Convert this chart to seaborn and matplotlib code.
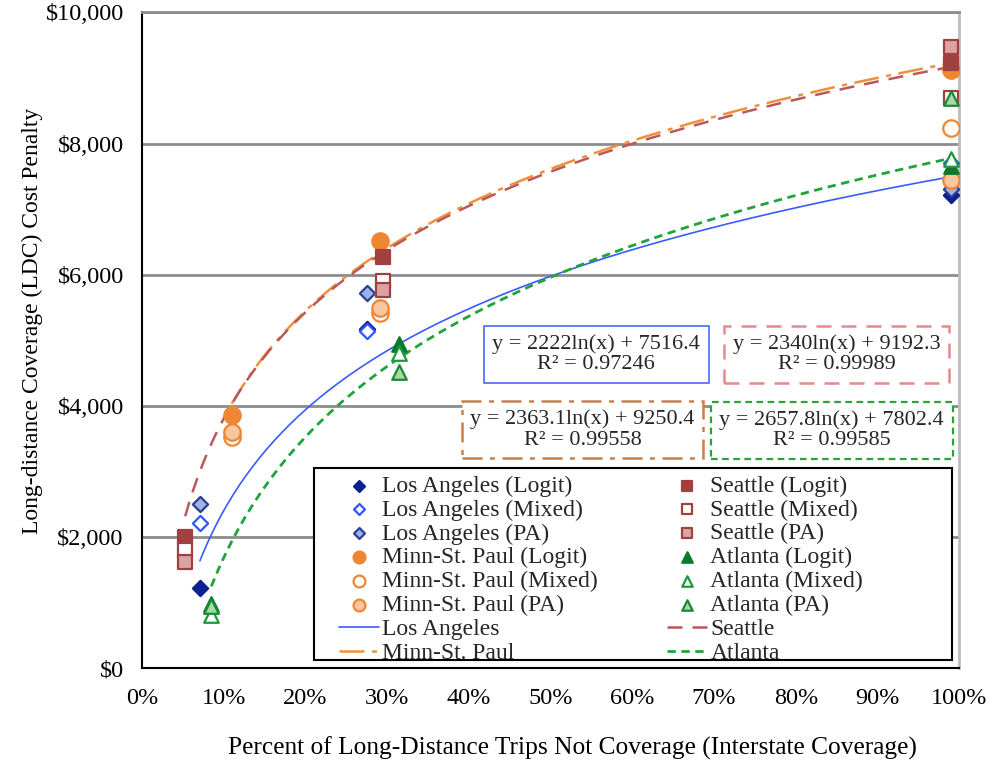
import numpy as np
import pandas as pd
import matplotlib
matplotlib.use("Agg")
import matplotlib.pyplot as plt
import seaborn as sns
from matplotlib.patches import Rectangle
from matplotlib.ticker import PercentFormatter, FuncFormatter

# ---------------------------
# DATA
# ---------------------------
cities = ["Los Angeles", "Minn-St. Paul", "Seattle", "Atlanta"]
models = ["Logit", "Mixed", "PA"]

x_la = [0.071, 0.275, 0.99]
la_logit = [1220, 5180, 7210]
la_mixed = [2210, 5140, 7710]
la_pa = [2500, 5720, 7300]

x_msp = [0.110, 0.291, 0.99]
msp_logit = [3860, 6520, 9120]
msp_mixed = [3520, 5410, 8230]
msp_pa = [3600, 5490, 7440]

x_sea = [0.053, 0.295, 0.99]
sea_logit = [2000, 6270, 9220]
sea_mixed = [1800, 5910, 8700]
sea_pa = [1620, 5760, 9470]

x_atl = [0.085, 0.314, 0.99]
atl_logit = [980, 4950, 7650]
atl_mixed = [810, 4800, 7760]
atl_pa = [950, 4510, 8700]

# log trendline coefficients shown in the chart: y = a*ln(x) + b
fit_a = [2222, 2363.1, 2340, 2657.8]
fit_b = [7516.4, 9250.4, 9192.3, 7802.4]
fit_r2 = ["0.97246", "0.99558", "0.99989", "0.99585"]
fit_text_a = ["2222", "2363.1", "2340", "2657.8"]

sns.set_theme(style="white")
plt.rcParams["font.family"] = ["Liberation Serif", "DejaVu Serif"]

fig, ax = plt.subplots(figsize=(9.92, 7.7), dpi=100)
fig.subplots_adjust(left=0.143, right=0.967, top=0.984, bottom=0.132)

xs = [x_la, x_msp, x_sea, x_atl]
vals = [[la_logit, la_mixed, la_pa], [msp_logit, msp_mixed, msp_pa],
        [sea_logit, sea_mixed, sea_pa], [atl_logit, atl_mixed, atl_pa]]

# marker styles per city: (marker, size, [(face, edge) for logit, mixed, pa])
styles = {
    "Los Angeles": ("D", 60, [("#0b2191", "#0b2191"), ("white", "#2f55ff"), ("#9fb3e0", "#2a3d9c")]),
    "Minn-St. Paul": ("o", 140, [("#ef8633", "#ef8633"), ("white", "#ef8633"), ("#f9c6a0", "#ef8633")]),
    "Seattle": ("s", 110, [("#a0403f", "#a0403f"), ("white", "#a0403f"), ("#dba3a3", "#a0403f")]),
    "Atlanta": ("^", 110, [("#0c7a2a", "#0c7a2a"), ("white", "#1a9a3a"), ("#a6dba6", "#1a8a35")]),
}
line_styles = {
    "Los Angeles": ("#3a5cff", "-", 1.2),
    "Minn-St. Paul": ("#f0913a", (0, (10, 3, 2, 3)), 1.8),
    "Seattle": ("#b85a5a", (0, (6, 4)), 1.8),
    "Atlanta": ("#1fa33a", (0, (3, 2)), 2.0),
}
box_edges = {
    "Los Angeles": ("#4a6aff", "-", 1.2),
    "Minn-St. Paul": ("#c8804a", (0, (8, 3, 2, 3)), 1.8),
    "Seattle": ("#e38a8a", (0, (6, 4)), 1.8),
    "Atlanta": ("#2aa43a", (0, (3, 2)), 1.6),
}

# ---------------------------
# TRENDLINES
# ---------------------------
line_handles = {}
for i, city in enumerate(cities):
    xx = np.linspace(min(xs[i]), max(xs[i]), 200)
    yy = fit_a[i] * np.log(xx) + fit_b[i]
    c, ls, lw = line_styles[city]
    sns.lineplot(x=xx, y=yy, ax=ax, color=c, linestyle=ls, lw=lw, zorder=3)
    line_handles[city] = ax.lines[-1]

# ---------------------------
# POINTS
# ---------------------------
pt_handles = {}
for i, city in enumerate(cities):
    mk, s, cols = styles[city]
    for j, m in enumerate(models):
        fc, ec = cols[j]
        sns.scatterplot(x=xs[i], y=vals[i][j], ax=ax, marker=mk, s=s,
                        color=fc, edgecolor=ec, linewidth=1.6, zorder=4)
        pt_handles[(city, m)] = ax.collections[-1]

# ---------------------------
# AXES
# ---------------------------
ax.set_xlim(0, 1.0)
ax.set_ylim(0, 10000)
ax.set_xticks(np.arange(0, 1.01, 0.1))
ax.set_yticks(np.arange(0, 10001, 2000))
ax.xaxis.set_major_formatter(PercentFormatter(1.0, decimals=0))
ax.yaxis.set_major_formatter(FuncFormatter(lambda v, p: "${:,.0f}".format(v)))
ax.tick_params(axis="both", labelsize=17.5, colors="black", direction="inout",
               length=10, width=1.2, pad=8)
ax.tick_params(axis="x", pad=9)
ax.yaxis.grid(True, color="#8c8c8c", lw=2)
ax.set_axisbelow(True)
for side in ["left", "bottom"]:
    ax.spines[side].set_color("black")
    ax.spines[side].set_linewidth(1.5)
ax.spines["top"].set_color("#8c8c8c")
ax.spines["top"].set_linewidth(2)
ax.spines["right"].set_color("#bdbdbd")
ax.spines["right"].set_linewidth(2)

ax.set_xlabel("Percent of Long-Distance Trips Not Coverage (Interstate Coverage)",
              fontsize=18.3, labelpad=20, color="black")
ax.xaxis.label.set_x(0.527)
ax.set_ylabel("Long-distance Coverage (LDC) Cost Penalty", fontsize=17,
              labelpad=2, color="black")
ax.yaxis.label.set_y(0.53)

# ---------------------------
# EQUATION BOXES
# ---------------------------
box_pos = {
    "Los Angeles": (0.556, 0.479),
    "Seattle": (0.850, 0.479),
    "Minn-St. Paul": (0.539, 0.364),
    "Atlanta": (0.844, 0.363),
}
for i, city in enumerate(cities):
    ec, ls, lw = box_edges[city]
    txt = "y = {}ln(x) + {}\nR² = {}".format(fit_text_a[i], fit_b[i], fit_r2[i])
    bx, by = box_pos[city]
    ax.text(bx, by, txt, transform=ax.transAxes, ha="center", va="center",
            fontsize=16, linespacing=1.1, zorder=5,
            bbox=dict(boxstyle="square,pad=0.38", facecolor="white",
                      edgecolor=ec, linestyle=ls, linewidth=lw))

# ---------------------------
# LEGEND
# ---------------------------
col1 = [(pt_handles[("Los Angeles", m)], "Los Angeles ({})".format(m)) for m in models]
col1 += [(pt_handles[("Minn-St. Paul", m)], "Minn-St. Paul ({})".format(m)) for m in models]
col1 += [(line_handles["Los Angeles"], "Los Angeles"), (line_handles["Minn-St. Paul"], "Minn-St. Paul")]
col2 = [(pt_handles[("Seattle", m)], "Seattle ({})".format(m)) for m in models]
col2 += [(pt_handles[("Atlanta", m)], "Atlanta ({})".format(m)) for m in models]
col2 += [(line_handles["Seattle"], "Seattle"), (line_handles["Atlanta"], "Atlanta")]
entries = col1 + col2

frame = Rectangle((0.21, 0.012), 0.781, 0.293, transform=ax.transAxes,
                  facecolor="white", edgecolor="black", lw=1.5, zorder=6)
ax.add_patch(frame)

leg = ax.legend([h for h, _ in entries], [l for _, l in entries], ncol=2,
                loc="upper left", bbox_to_anchor=(0.238, 0.298),
                borderaxespad=0, borderpad=0.1,
                fontsize=17, labelspacing=0.1, handlelength=1.7,
                handletextpad=0.15, columnspacing=2.9, markerscale=0.72,
                frameon=False)
leg.set_zorder(7)

plt.savefig("out.png", dpi=100)
